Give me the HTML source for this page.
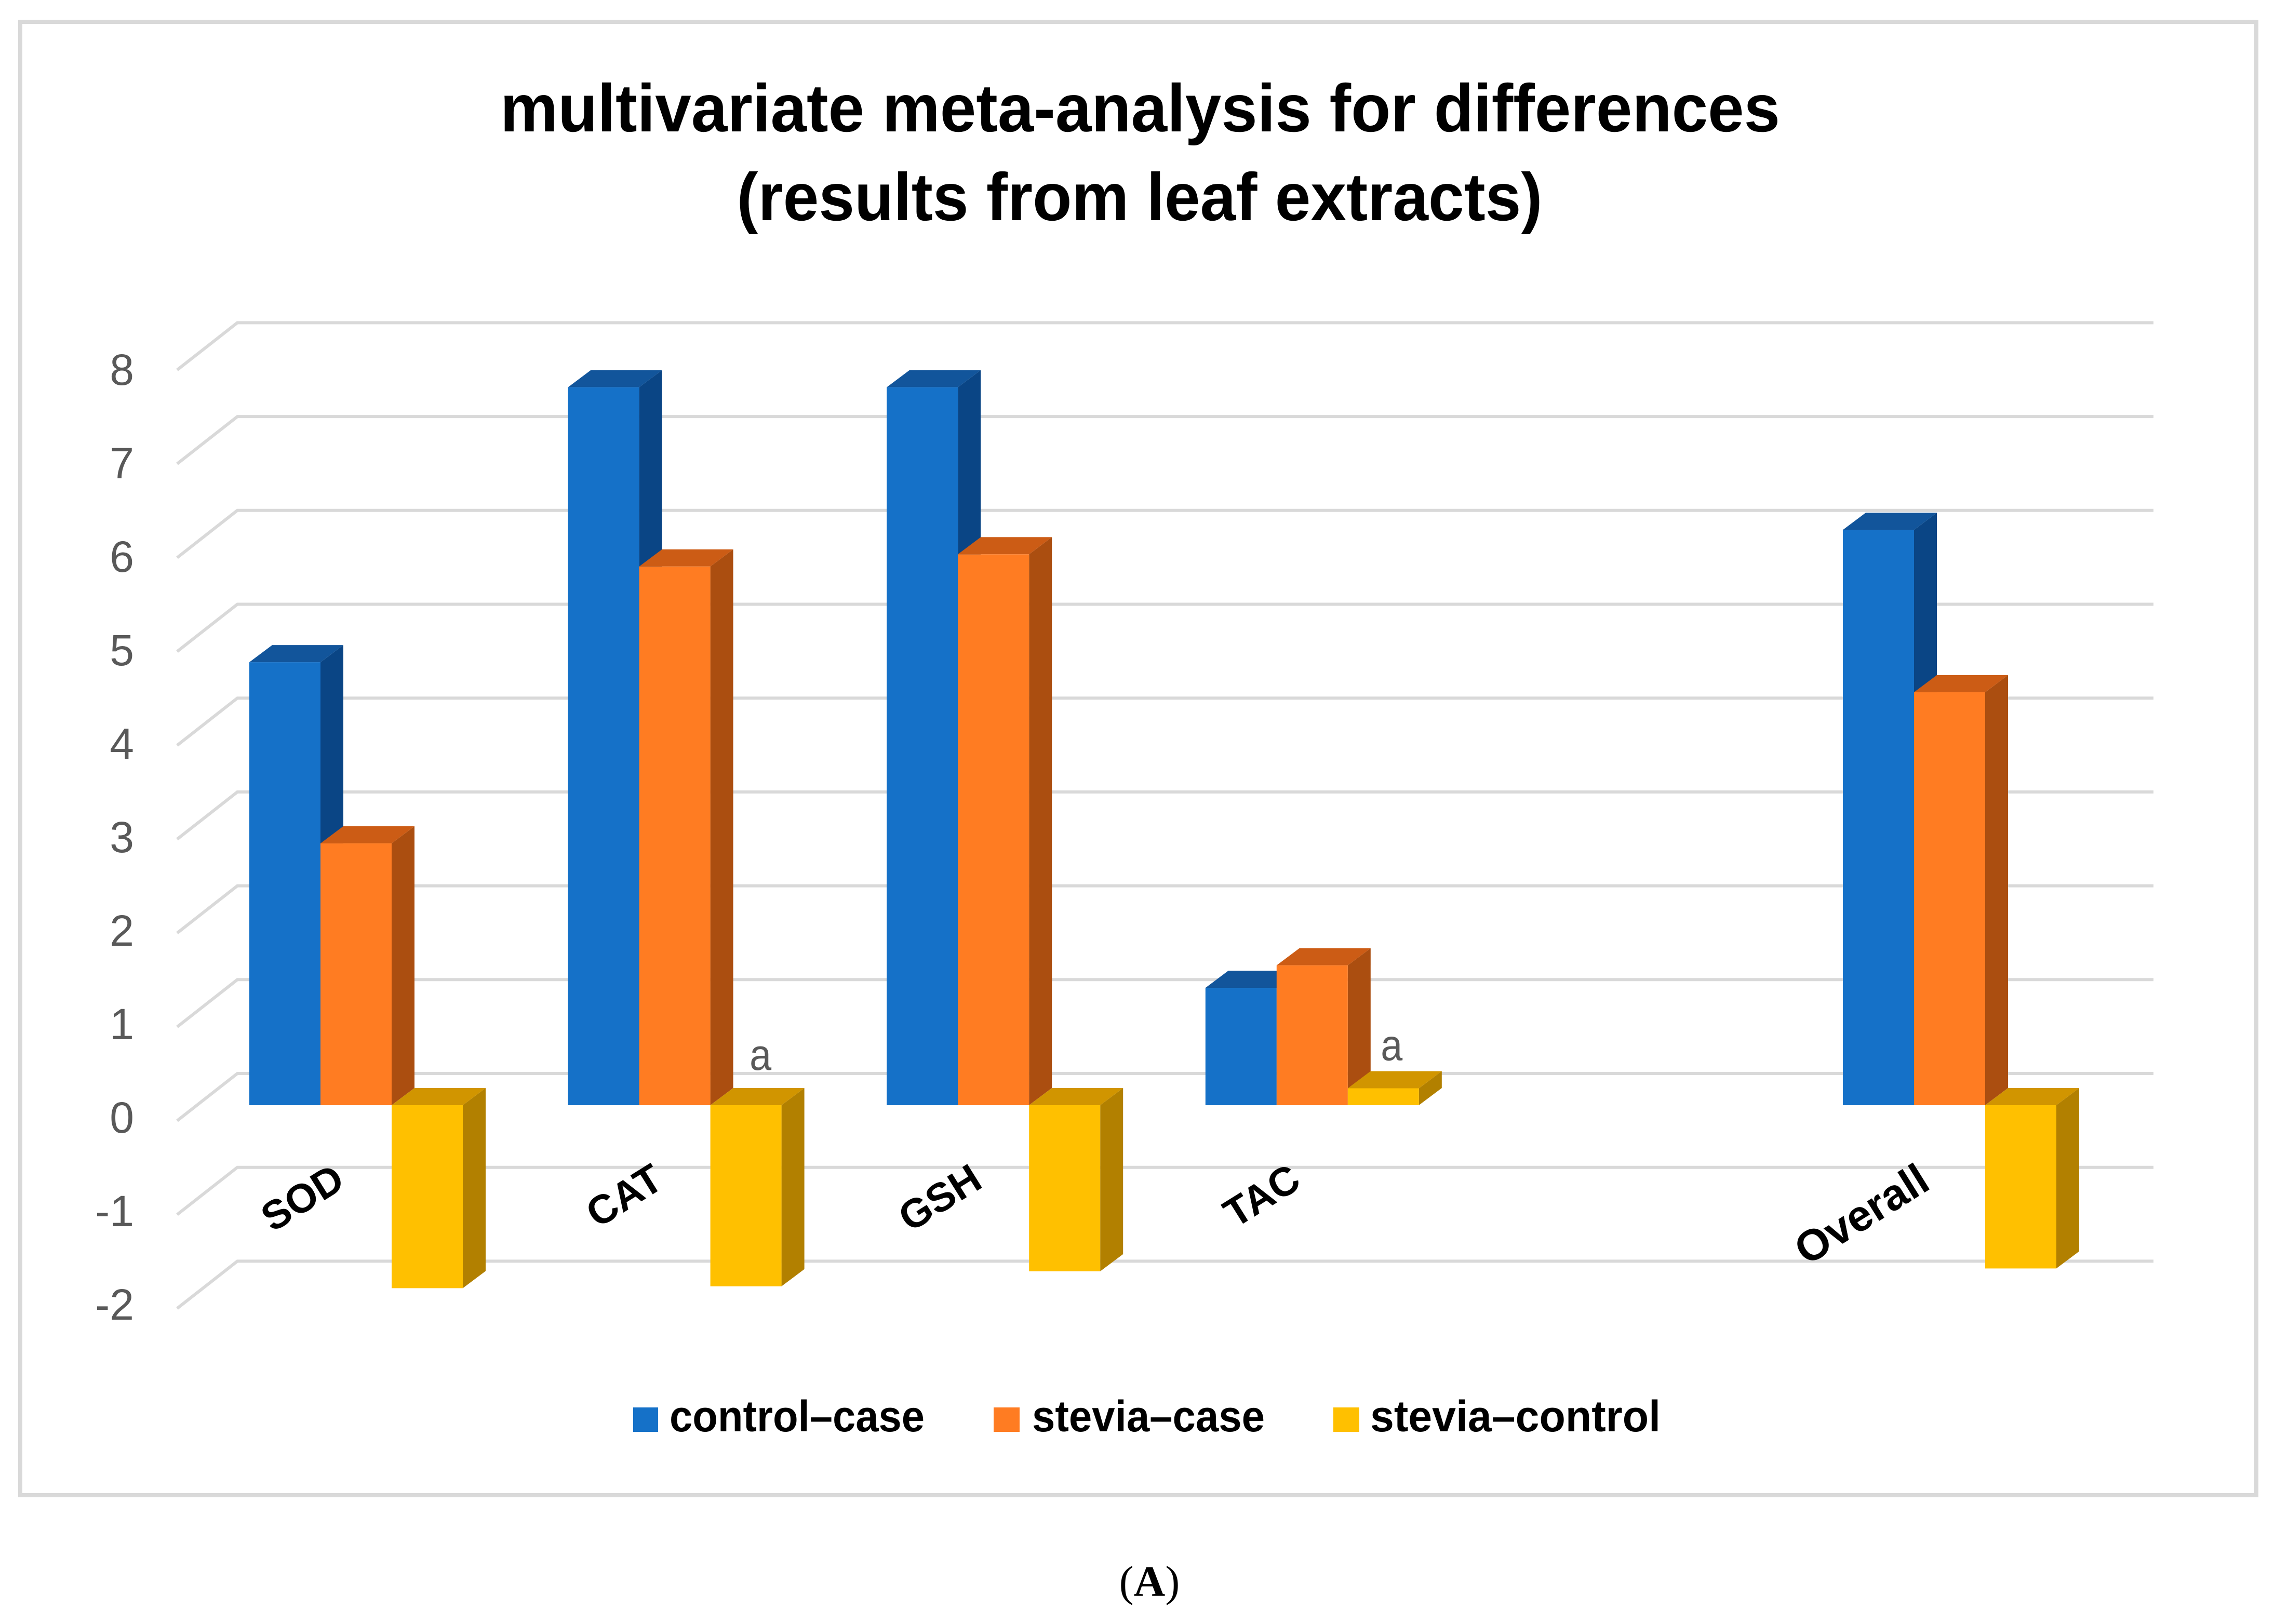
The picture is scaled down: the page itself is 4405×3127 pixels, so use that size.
<!DOCTYPE html>
<html lang="en">
<head>
<meta charset="utf-8">
<title>multivariate meta-analysis for differences</title>
<style>
html,body{margin:0;padding:0;background:#fff;width:4405px;height:3127px;overflow:hidden}
svg{display:block}
text{font-family:"Liberation Sans",sans-serif}
</style>
</head>
<body>
<svg id="chart" xmlns="http://www.w3.org/2000/svg" width="4405" height="3127" viewBox="0 0 4405 3127">
  <rect x="39" y="42" width="4305" height="2837" fill="#fff" stroke="#d9d9d9" stroke-width="8"/>
  <g id="grid"></g>
  <g id="ticks"></g>
  <g id="cats"></g>
  <g id="bars"></g>
  <g id="notes"></g>
  <text x="2195" y="253" text-anchor="middle" font-size="130" font-weight="700" fill="#000" textLength="2464" lengthAdjust="spacingAndGlyphs">multivariate meta-analysis for differences</text>
  <text x="2194" y="424" text-anchor="middle" font-size="130" font-weight="700" fill="#000" textLength="1551" lengthAdjust="spacingAndGlyphs">(results from leaf extracts)</text>
  <g>
    <g>
      <rect x="1219" y="2710" width="48" height="47" fill="#1571c8"/>
      <text x="1289" y="2756" font-size="84" font-weight="700" fill="#000" textLength="491" lengthAdjust="spacingAndGlyphs">control–case</text>
    </g>
    <g>
      <rect x="1913" y="2710" width="50" height="47" fill="#ff7c22"/>
      <text x="1987" y="2756" font-size="84" font-weight="700" fill="#000" textLength="448" lengthAdjust="spacingAndGlyphs">stevia–case</text>
    </g>
    <g>
      <rect x="2567" y="2710" width="50" height="47" fill="#ffc000"/>
      <text x="2638" y="2756" font-size="84" font-weight="700" fill="#000" textLength="559" lengthAdjust="spacingAndGlyphs">stevia–control</text>
    </g>
  </g>
  <text x="2213" y="3073" text-anchor="middle" font-size="84" fill="#000" style="font-family:'Liberation Serif',serif">(<tspan font-weight="700">A</tspan>)</text>
</svg>
<script>
const categories = ["SOD", "CAT", "GSH", "TAC", "", "Overall"];
const controlCase = [4.72, 7.65, 7.65, 1.25, null, 6.13];
const steviaCase = [2.79, 5.74, 5.87, 1.49, null, 4.40];
const steviaControl = [-1.95, -1.93, -1.77, 0.18, null, -1.74];
const tickLabels = [8, 7, 6, 5, 4, 3, 2, 1, 0, -1, -2];
const annotatedCategories = ["CAT", "TAC"];
const annotationText = "a";

const SVG_NS = "http://www.w3.org/2000/svg";
const gridEl = document.getElementById("grid");
const ticksEl = document.getElementById("ticks");
const catsEl = document.getElementById("cats");
const barsEl = document.getElementById("bars");
const notesEl = document.getElementById("notes");

const UNIT = 180.7;
const BAR_BASE = 2128;
const GRID_ZERO = 2067;
const LABEL_ZERO = 2181;
const BAR_W = 137;
const DX = 44;
const DY = 33;

function yBar(v) { return BAR_BASE - UNIT * v; }
function yGrid(v) { return GRID_ZERO - UNIT * v; }
function yLabel(v) { return LABEL_ZERO - 180 * v; }
function xGroup(i) { return 480 + 613.6 * i; }
function xBar(i, s) { return xGroup(i) + BAR_W * s; }

function make(tag, parent, attrs) {
  const el = document.createElementNS(SVG_NS, tag);
  for (const k in attrs) el.setAttribute(k, attrs[k]);
  parent.appendChild(el);
  return el;
}
function pts(list) { return list.map(function (p) { return p[0] + "," + p[1]; }).join(" "); }

tickLabels.forEach(function (t) {
  const y = yGrid(t);
  const line = make("polyline", gridEl, {
    points: pts([[341, y + 91], [457, y], [4146, y]]),
    fill: "none", stroke: "#d9d9d9", "stroke-width": 6
  });
  
  

  const label = make("text", ticksEl, {
    x: 258, y: yLabel(t), "text-anchor": "end", "font-size": 84, fill: "#595959"
  });
  
  
  label.textContent = String(t);
});

categories.forEach(function (c, i) {
  if (!c) return;
  const isLong = c === "Overall";
  const x = xGroup(i) + (isLong ? 172 : 188);
  const y = isLong ? 2287 : 2284;
  const label = make("text", catsEl, {
    x: x, y: y, "text-anchor": "end", "font-size": isLong ? 84 : 78, "font-weight": 700, fill: "#000",
    transform: "rotate(-32 " + x + " " + y + ")"
  });
  
  
  label.textContent = c;
});

const seriesValues = [controlCase, steviaCase, steviaControl];
const seriesNames = ["control-case", "stevia-case", "stevia-control"];
const seriesFront = ["#1571c8", "#ff7c22", "#ffc000"];
const seriesTop = ["#12559b", "#cc5c15", "#d19500"];
const seriesSide = ["#0a4585", "#ab4e10", "#b28000"];

categories.forEach(function (c, i) {
  seriesValues.forEach(function (values, s) {
    const v = values[i];
    if (v === null) return;
    const x0 = xBar(i, s);
    const x1 = x0 + BAR_W;
    const yV = yBar(v);
    const yTop = Math.min(yV, BAR_BASE);
    const yBot = Math.max(yV, BAR_BASE);

    const group = make("g", barsEl, {});
    
    

    const side = make("polygon", group, {
      points: pts([[x1, yTop], [x1 + DX, yTop - DY], [x1 + DX, yBot - DY], [x1, yBot]]),
      fill: seriesSide[s]
    });
    
    

    const top = make("polygon", group, {
      points: pts([[x0, yTop], [x0 + DX, yTop - DY], [x1 + DX, yTop - DY], [x1, yTop]]),
      fill: seriesTop[s]
    });
    
    

    const front = make("rect", group, {
      x: x0, y: yTop, width: BAR_W, height: yBot - yTop, fill: seriesFront[s]
    });
    
    
  });
});

annotatedCategories.forEach(function (c) {
  const i = categories.indexOf(c);
  const v = steviaControl[i];
  const negative = v < 0;
  const x = xBar(i, 2) + BAR_W / 2 + (negative ? 28 : 16);
  const y = yBar(Math.max(v, 0)) - DY + (negative ? -35 : -21);
  const note = make("text", notesEl, {
    x: x, y: y, "text-anchor": "middle", "font-size": 84, fill: "#595959",
    textLength: 42, lengthAdjust: "spacingAndGlyphs"
  });
  
  
  note.textContent = annotationText;
});
</script>
</body>
</html>
